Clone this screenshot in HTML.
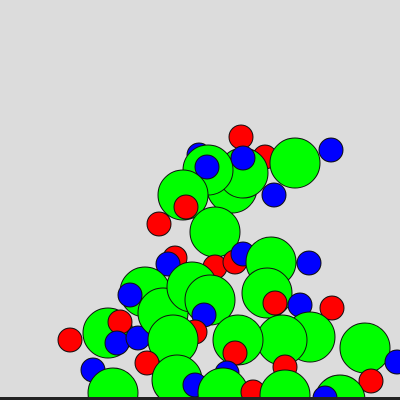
<!DOCTYPE html>
<html><head><meta charset="utf-8"><style>
html,body{margin:0;padding:0;background:#dcdcdc;width:400px;height:400px;overflow:hidden}
svg{display:block;overflow:hidden}
</style></head><body>
<svg id="chart" width="400" height="400" viewBox="0 0 400 400">
<rect x="0" y="0" width="400" height="400" fill="#dcdcdc"/>
<g id="marks"></g>
<rect x="0" y="397" width="400" height="3" fill="#222"/>
</svg>
<script>
const xs=[241,199,236,232,265,243,208,207,243,295,331,274,183,186,159,215,175,168,215,235,243,271,309,
70,145,130,108,120,117,138,163,192,210,204,195,173,267,275,300,332,310,282,285,365,371,397,
238,235,227,147,93,177,195,113,223,253,285,340,325];
const ys=[137,155,178,188,157,173,170,167,158,163,150,195,195,207,224,232,258,264,267,262,254,262,263,
340,292,295,333,322,343,338,313,287,300,315,332,340,293,303,305,308,337,340,367,348,381,362,
340,353,373,363,370,380,385,393,393,392,395,400,398];
const sizes=[12,12,25,25,12,25,25,12,12,25,12,12,25,12,12,25,12,12,12,12,12,25,12,
12,25,12,25,12,12,12,25,25,25,12,12,25,25,12,12,12,25,25,12,25,12,12,
25,12,12,12,12,25,12,25,25,12,25,25,12];
const colors=["r","b","g","g","r","g","g","b","b","g","b","b","g","r","r","g","r","b","r","r","b","g","b",
"r","g","b","g","r","b","b","g","g","g","b","r","g","g","r","b","r","g","g","r","g","r","b",
"g","r","b","r","b","g","b","g","g","r","g","g","b"];
const fill={r:"#ff0000",g:"#00ff00",b:"#0000ff"};
const g=document.getElementById('marks');
for(let i=0;i<xs.length;i++){
  const c=document.createElementNS('http://www.w3.org/2000/svg','circle');
  c.setAttribute('cx',xs[i]);c.setAttribute('cy',ys[i]);c.setAttribute('r',sizes[i]);
  c.setAttribute('fill',fill[colors[i]]);c.setAttribute('stroke','#111');c.setAttribute('stroke-width','1');
  
  
  g.appendChild(c);
}
</script>
</body></html>
